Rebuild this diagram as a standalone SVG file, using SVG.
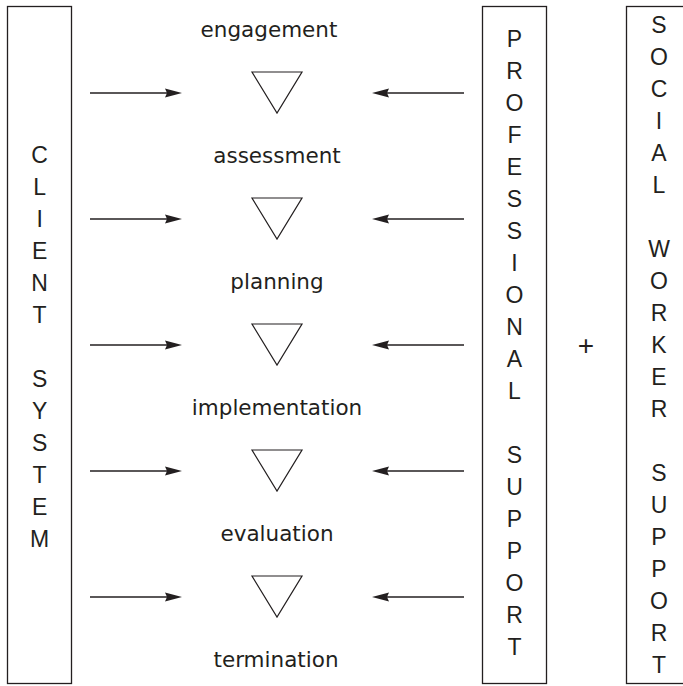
<svg xmlns="http://www.w3.org/2000/svg" width="683" height="686" viewBox="0 0 683 686">
<style>
.box{fill:#fff;stroke:#231f20;stroke-width:1.3}
.tri{fill:none;stroke:#231f20;stroke-width:1.2;stroke-linejoin:miter}
.t{font-family:"DejaVu Sans","Liberation Sans",sans-serif;font-size:21.5px;fill:#231f20;text-anchor:middle}
.c{font-family:"Liberation Sans","DejaVu Sans",sans-serif;font-size:23px;fill:#231f20;text-anchor:middle}
.ln{stroke:#231f20;stroke-width:1.4;fill:none}
.ah{fill:#231f20}
</style>
<rect width="683" height="686" fill="#fff"/>
<g id="client-system">
<rect class="box" x="7.5" y="6.5" width="64" height="677"/>
<text class="c"><tspan x="39.6" y="163">C</tspan><tspan x="39.6" dy="32">L</tspan><tspan x="39.6" dy="32">I</tspan><tspan x="39.6" dy="32">E</tspan><tspan x="39.6" dy="32">N</tspan><tspan x="39.6" dy="32">T</tspan><tspan x="39.6" dy="64">S</tspan><tspan x="39.6" dy="32">Y</tspan><tspan x="39.6" dy="32">S</tspan><tspan x="39.6" dy="32">T</tspan><tspan x="39.6" dy="32">E</tspan><tspan x="39.6" dy="32">M</tspan></text>
</g>
<g id="professional-support">
<rect class="box" x="482.5" y="6.5" width="64" height="677"/>
<text class="c"><tspan x="514.5" y="47">P</tspan><tspan x="514.5" dy="32">R</tspan><tspan x="514.5" dy="32">O</tspan><tspan x="514.5" dy="32">F</tspan><tspan x="514.5" dy="32">E</tspan><tspan x="514.5" dy="32">S</tspan><tspan x="514.5" dy="32">S</tspan><tspan x="514.5" dy="32">I</tspan><tspan x="514.5" dy="32">O</tspan><tspan x="514.5" dy="32">N</tspan><tspan x="514.5" dy="32">A</tspan><tspan x="514.5" dy="32">L</tspan><tspan x="514.5" dy="64">S</tspan><tspan x="514.5" dy="32">U</tspan><tspan x="514.5" dy="32">P</tspan><tspan x="514.5" dy="32">P</tspan><tspan x="514.5" dy="32">O</tspan><tspan x="514.5" dy="32">R</tspan><tspan x="514.5" dy="32">T</tspan></text>
</g>
<g id="plus">
<text class="c" x="586" y="355" style="font-size:28px">+</text>
</g>
<g id="social-worker-support">
<rect class="box" x="626.5" y="6.5" width="64" height="677"/>
<text class="c"><tspan x="659" y="33">S</tspan><tspan x="659" dy="32">O</tspan><tspan x="659" dy="32">C</tspan><tspan x="659" dy="32">I</tspan><tspan x="659" dy="32">A</tspan><tspan x="659" dy="32">L</tspan><tspan x="659" dy="64">W</tspan><tspan x="659" dy="32">O</tspan><tspan x="659" dy="32">R</tspan><tspan x="659" dy="32">K</tspan><tspan x="659" dy="32">E</tspan><tspan x="659" dy="32">R</tspan><tspan x="659" dy="64">S</tspan><tspan x="659" dy="32">U</tspan><tspan x="659" dy="32">P</tspan><tspan x="659" dy="32">P</tspan><tspan x="659" dy="32">O</tspan><tspan x="659" dy="32">R</tspan><tspan x="659" dy="32">T</tspan></text>
</g>
<g id="engagement"><text class="t" x="269" y="37">engagement</text></g>
<g id="assessment"><text class="t" x="277" y="163">assessment</text></g>
<g id="planning"><text class="t" x="277" y="289">planning</text></g>
<g id="implementation"><text class="t" x="277" y="415">implementation</text></g>
<g id="evaluation"><text class="t" x="277" y="541">evaluation</text></g>
<g id="termination"><text class="t" x="276" y="667">termination</text></g>
<g id="transitions">
<polygon class="tri" points="252,72 302,72 277,113"/>
<polygon class="tri" points="252,198 302,198 277,239"/>
<polygon class="tri" points="252,324 302,324 277,365"/>
<polygon class="tri" points="252,450 302,450 277,491"/>
<polygon class="tri" points="252,576 302,576 277,617"/>
</g>
<g id="connectors">
<line class="ln" x1="90" y1="93" x2="170" y2="93"/><polygon class="ah" points="182,93 165,88.5 167,93 165,97.5"/>
<line class="ln" x1="90" y1="219" x2="170" y2="219"/><polygon class="ah" points="182,219 165,214.5 167,219 165,223.5"/>
<line class="ln" x1="90" y1="345" x2="170" y2="345"/><polygon class="ah" points="182,345 165,340.5 167,345 165,349.5"/>
<line class="ln" x1="90" y1="471" x2="170" y2="471"/><polygon class="ah" points="182,471 165,466.5 167,471 165,475.5"/>
<line class="ln" x1="90" y1="597" x2="170" y2="597"/><polygon class="ah" points="182,597 165,592.5 167,597 165,601.5"/>
<line class="ln" x1="464" y1="93" x2="384" y2="93"/><polygon class="ah" points="372,93 389,88.5 387,93 389,97.5"/>
<line class="ln" x1="464" y1="219" x2="384" y2="219"/><polygon class="ah" points="372,219 389,214.5 387,219 389,223.5"/>
<line class="ln" x1="464" y1="345" x2="384" y2="345"/><polygon class="ah" points="372,345 389,340.5 387,345 389,349.5"/>
<line class="ln" x1="464" y1="471" x2="384" y2="471"/><polygon class="ah" points="372,471 389,466.5 387,471 389,475.5"/>
<line class="ln" x1="464" y1="597" x2="384" y2="597"/><polygon class="ah" points="372,597 389,592.5 387,597 389,601.5"/>
</g>
</svg>
